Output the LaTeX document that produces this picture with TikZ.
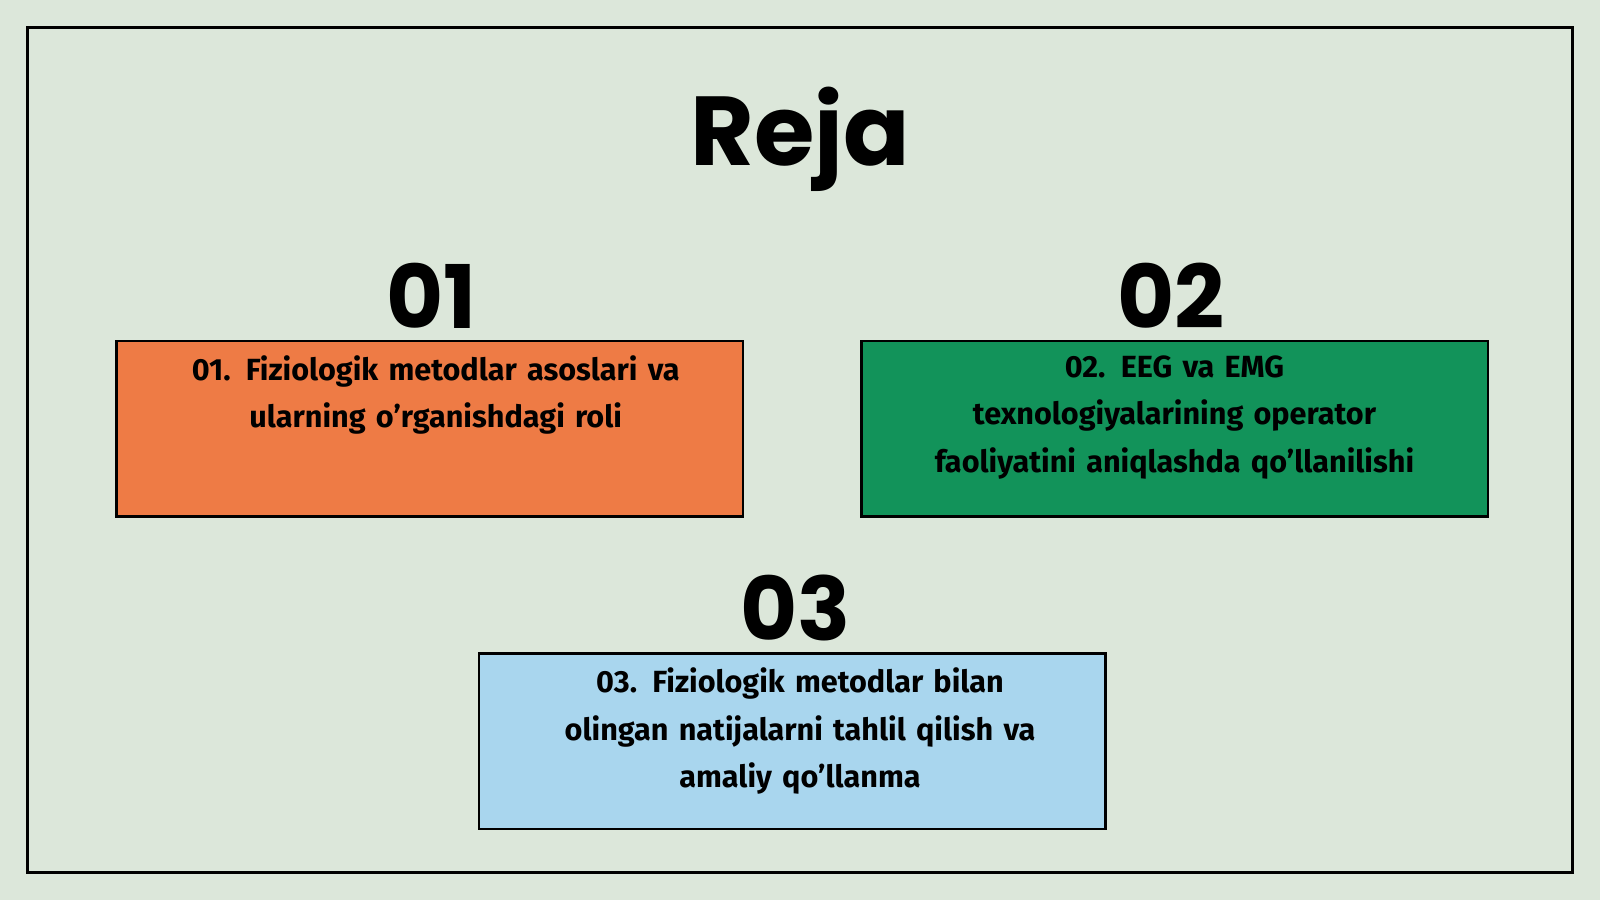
\documentclass[tikz,border=0pt]{standalone}
\usepackage{fontspec}
\setmainfont{Fira Sans}
\newfontfamily\heavy{Poppins}
\definecolor{bg}{HTML}{DCE7DA}
\definecolor{org}{HTML}{EE7B45}
\definecolor{grn}{HTML}{12935A}
\definecolor{blu}{HTML}{A9D6EE}
\begin{document}
\begin{tikzpicture}[x=1pt,y=-1pt,
  box/.style={draw=black,line width=2.5pt,minimum width=614pt,minimum height=172pt,anchor=north west,inner sep=0pt},
  txt/.style={anchor=north,align=center,text width=560pt,font=\fontsize{30}{46.5}\selectfont\bfseries},
  num/.style={font=\heavy\bfseries\fontsize{86}{86}\selectfont,anchor=base}]
\fill[bg] (0,0) rectangle (1568,882);
\useasboundingbox (0,0) rectangle (1568,882);
\draw[line width=3pt] (27,27) rectangle (1541,855) node[coordinate](frame){};
\node[font=\heavy\bfseries\fontsize{96}{96}\selectfont,anchor=base] (title) at (784,162) {Reja};
\node[num] (n1) at (423,322) {01};
\node[num] (n2) at (1148,322) {02};
\node[num] (n3) at (780,628) {03};
\node[box,fill=org] (b1) at (113,333) {};
\node[box,fill=grn] (b2) at (843,333) {};
\node[box,fill=blu] (b3) at (468,639) {};
\node[txt] (t1) at (427,345) {01. Fiziologik metodlar asoslari va\\ ularning o'rganishdagi roli};
\node[txt] (t2) at (1151,345) {02. EEG va EMG\\ texnologiyalarining operator\\ faoliyatini aniqlashda qo'llanilishi};
\node[txt] (t3) at (784,651) {03. Fiziologik metodlar bilan\\ olingan natijalarni tahlil qilish va\\ amaliy qo'llanma};
\end{tikzpicture}
\end{document}
